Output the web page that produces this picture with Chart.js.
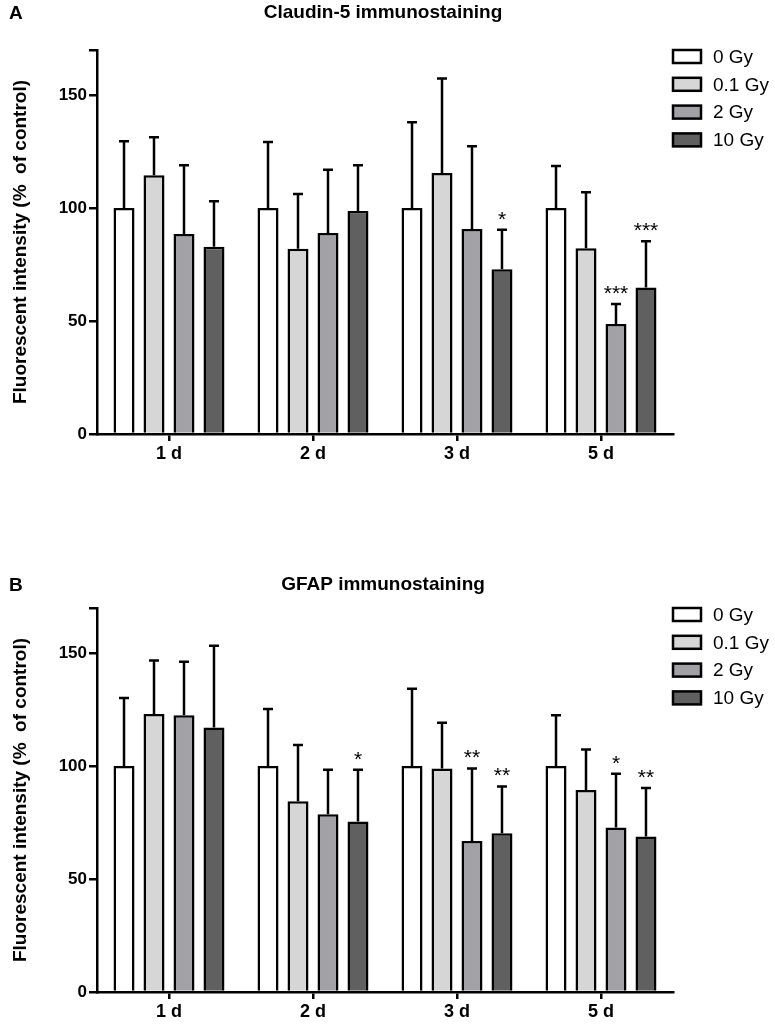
<!DOCTYPE html>
<html>
<head>
<meta charset="utf-8">
<title>Claudin-5 and GFAP immunostaining</title>
<script src="https://cdn.jsdelivr.net/npm/chart.js@4.4.1/dist/chart.umd.min.js"></script>
<style>
  html, body { margin: 0; padding: 0; background: #fff; }
  #wrap { position: relative; width: 775px; height: 1025px; }
  canvas { position: absolute; left: 0; }
  #chartA { top: 0; }
  #chartB { top: 558px; }
</style>
</head>
<body>
<div id="wrap">
  <canvas id="chartA" width="775" height="467"></canvas>
  <canvas id="chartB" width="775" height="467"></canvas>
</div>
<script>
// categories / series
const days = ['1 d', '2 d', '3 d', '5 d'];
const doses = ['0 Gy', '0.1 Gy', '2 Gy', '10 Gy'];
const doseColors = ['#ffffff', '#d6d6d6', '#a2a2a6', '#606060'];
const yTicks = [0, 50, 100, 150];
const yMax = 170;

// panel A - Claudin-5 (rows follow doses, columns follow days)
const claudinMean = [
    [100, 100, 100, 100],
    [114.6, 82, 115.6, 82.2],
    [88.5, 89, 90.7, 48.7],
    [82.9, 98.7, 72.9, 64.9]
];
const claudinSD = [
    [29.6, 29.3, 38, 18.7],
    [16.8, 24.2, 41.8, 24.8],
    [30.5, 28, 36.7, 8.8],
    [20.1, 20.3, 17.5, 20.4]
];
const claudinStars = [
    ['', '', '', ''],
    ['', '', '', ''],
    ['', '', '', '***'],
    ['', '', '*', '***']
];

// panel B - GFAP
const gfapMean = [
    [100, 100, 100, 100],
    [123.1, 84.4, 99, 89.4],
    [122.5, 78.7, 66.8, 72.8],
    [117.1, 75.5, 70.3, 68.8]
];
const gfapSD = [
    [30.2, 25.3, 34.2, 22.5],
    [23.7, 24.9, 20.2, 18],
    [23.7, 19.7, 32.2, 23.8],
    [36.2, 22.9, 20.7, 21.5]
];
const gfapStars = [
    ['', '', '', ''],
    ['', '', '', ''],
    ['', '', '**', '*'],
    ['', '*', '**', '**']
];

const FONT = 'Arial, "Liberation Sans", Helvetica, sans-serif';

// error bars (upper only) + significance stars
const errorBarPlugin = {
    id: 'errorBars',
    afterDatasetsDraw(chart, args, opts) {
        const ctx = chart.ctx;
        const y = chart.scales.y;
        ctx.save();
        ctx.strokeStyle = '#000';
        ctx.lineWidth = 2.5;
        chart.data.datasets.forEach((ds, i) => {
            const meta = chart.getDatasetMeta(i);
            meta.data.forEach((bar, j) => {
                const top = y.getPixelForValue(ds.data[j] + opts.sd[i][j]);
                ctx.beginPath();
                ctx.moveTo(bar.x, bar.y);
                ctx.lineTo(bar.x, top);
                ctx.moveTo(bar.x - 5, top);
                ctx.lineTo(bar.x + 5, top);
                ctx.stroke();
                const s = opts.stars[i][j];
                if (s) {
                    ctx.fillStyle = '#000';
                    ctx.font = '21px ' + FONT;
                    ctx.textAlign = 'center';
                    ctx.textBaseline = 'alphabetic';
                    ctx.fillText(s, bar.x, top - 4);
                }
            });
        });
        ctx.restore();
    }
};

// title, panel letter and legend
const decorPlugin = {
    id: 'decor',
    afterDraw(chart, args, opts) {
        const ctx = chart.ctx;
        ctx.save();
        ctx.fillStyle = '#000';
        ctx.textBaseline = 'middle';
        ctx.font = 'bold 19px ' + FONT;
        ctx.textAlign = 'center';
        ctx.fillText(opts.title, 383, opts.titleY);
        ctx.textAlign = 'left';
        ctx.fillText(opts.letter, 9, opts.titleY + 1);

        ctx.font = '19px ' + FONT;
        chart.data.datasets.forEach((ds, i) => {
            const ly = 56.5 + i * 27.8;
            ctx.fillStyle = ds.backgroundColor;
            ctx.fillRect(673, ly - 6.5, 28, 13);
            ctx.strokeStyle = '#000';
            ctx.lineWidth = 2.5;
            ctx.strokeRect(673, ly - 6.5, 28, 13);
            ctx.fillStyle = '#000';
            ctx.fillText(ds.label, 713, ly + 1);
        });
        ctx.restore();
    }
};

function makePanel(id, title, letter, titleY, means, sds, stars) {
    const ctx = document.getElementById(id).getContext('2d');
    return new Chart(ctx, {
        type: 'bar',
        data: {
            labels: days,
            datasets: doses.map((d, i) => ({
                label: d,
                data: means[i],
                backgroundColor: doseColors[i],
                borderColor: '#000',
                borderWidth: 2.5,
                barPercentage: 0.7,
                categoryPercentage: 0.833
            }))
        },
        options: {
            responsive: false,
            animation: false,
            layout: { padding: { top: 50, right: 102, left: 0, bottom: 0 } },
            plugins: {
                legend: { display: false },
                tooltip: { enabled: false },
                errorBars: { sd: sds, stars: stars },
                decor: { title: title, letter: letter, titleY: titleY }
            },
            scales: {
                x: {
                    afterFit: function(scale) { scale.height = 33; },
                    grid: { drawOnChartArea: false, offset: false, tickLength: 7, color: '#000', lineWidth: 2.5 },
                    border: { color: '#000', width: 2.5 },
                    ticks: { color: '#000', padding: 2, font: { family: FONT, size: 18, weight: 'bold' } }
                },
                y: {
                    min: 0,
                    max: yMax,
                    afterFit: function(scale) { scale.width = 97; },
                    grid: { drawOnChartArea: false, tickLength: 8, color: '#000', lineWidth: 2.5 },
                    border: { color: '#000', width: 2.5 },
                    ticks: {
                        stepSize: 50,
                        color: '#000',
                        padding: 2,
                        font: { family: FONT, size: 17, weight: 'bold' },
                        callback: function(v) { return yTicks.includes(v) ? v : ''; }
                    },
                    title: {
                        display: true,
                        text: 'Fluorescent intensity (%  of control)',
                        color: '#000',
                        padding: { top: 9, bottom: 0 },
                        font: { family: FONT, size: 19, weight: 'bold' }
                    }
                }
            }
        },
        plugins: [errorBarPlugin, decorPlugin]
    });
}

makePanel('chartA', 'Claudin-5 immunostaining', 'A', 13, claudinMean, claudinSD, claudinStars);
makePanel('chartB', 'GFAP immunostaining', 'B', 27, gfapMean, gfapSD, gfapStars);
</script>
</body>
</html>
